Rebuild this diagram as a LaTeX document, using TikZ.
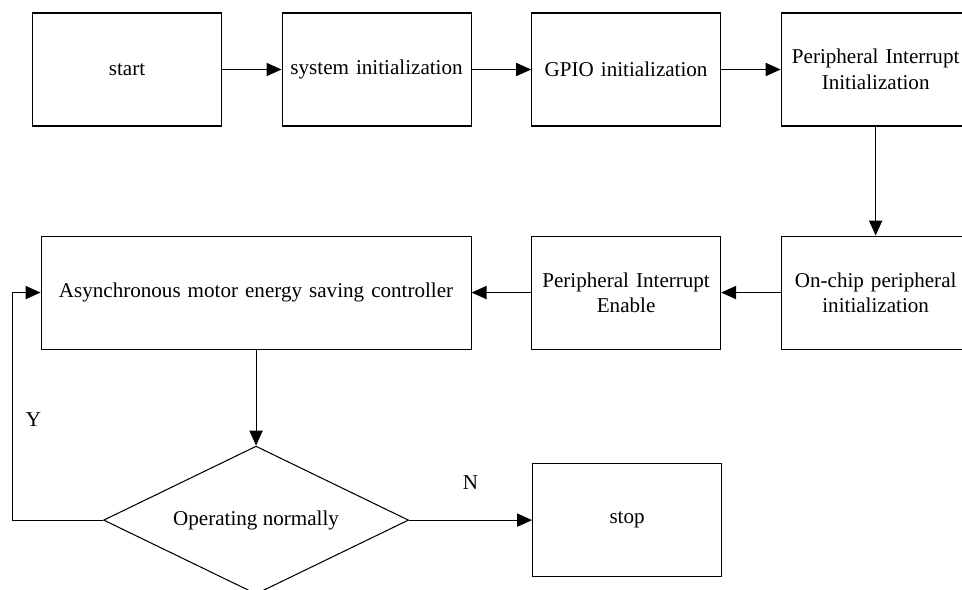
\documentclass[tikz,border=0pt]{standalone}
\usepackage{fontspec}
\setmainfont{Liberation Serif}
\usetikzlibrary{
        arrows.meta,
        positioning,
        shapes.geometric
    }
\tikzset{>={Triangle[length=8.5pt,width=7.5pt]},auto,node distance=1.19cm}
\tikzset{block/.style={draw,rectangle,minimum width=3.78cm,minimum height=2.26cm,
        text width=3.7cm,align=center,inner sep=0pt}}

\begin{document}
\begin{tikzpicture}[line width=0.6pt,font=\fontsize{12}{14.5}\selectfont]
                \useasboundingbox (0,0) rectangle (19.24,-11.8);
                \tikzset{decision/.style={draw,diamond,aspect=2.06,minimum width=6.1cm,minimum height=2.96cm,inner sep=0pt}}
                \node[block] (start) at (2.54,-1.39) {start};
                \node[block] (sysinit) [right=of start] {system initialization};
                \node[block] (gpio) [right=of sysinit] {GPIO initialization};
                \node[block] (pint) [right=of gpio] {Peripheral Interrupt\\Initialization};
                \node[block] (onchip) [below=2.18cm of pint] {On-chip peripheral\\initialization};
                \node[block] (pien) [left=of onchip] {Peripheral Interrupt\\Enable};
                \node[block,minimum width=8.6cm,text width=8.4cm] (ctrl) [left=of pien] {Asynchronous motor energy saving controller};
                \node[decision] (normal) [below=1.92cm of ctrl] {Operating normally};
                \node[block] (stop) [right=2.46cm of normal] {stop};
                \coordinate (yturn) at ([xshift=-0.56cm]ctrl.west |- normal.west);
                \path[->]
                    (start)  edge (sysinit)
                    (sysinit) edge (gpio)
                    (gpio)   edge (pint)
                    (pint)   edge (onchip)
                    (onchip) edge (pien)
                    (pien)   edge (ctrl)
                    (ctrl)   edge (normal)
                    (normal) edge node[above=0.48cm,swap] {N} (stop)
                ;
                \draw[->] (normal.west) -- (yturn) |- (ctrl.west)
                    node[pos=0.22,right=0.14cm] {Y};
            \end{tikzpicture}
\end{document}
